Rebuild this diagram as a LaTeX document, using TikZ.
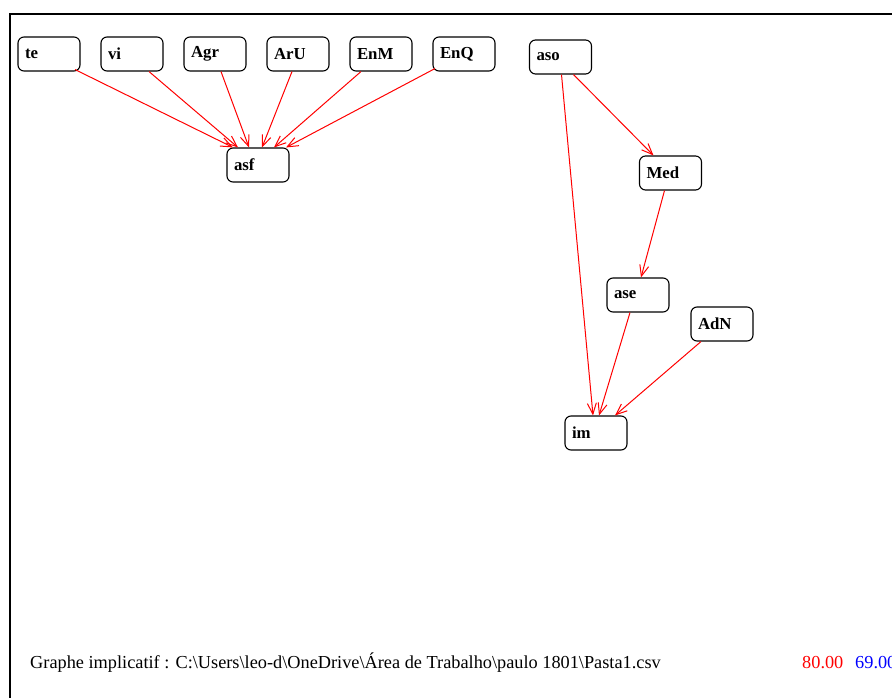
\documentclass[tikz,border=0pt]{standalone}
\usepackage{fontspec}
\setmainfont{Liberation Serif}
\usetikzlibrary{arrows.meta}

\begin{document}
\begin{tikzpicture}[x=1pt, y=-1pt, node distance=83pt, auto,
    >={Straight Barb[length=11pt,width=9pt]},
    var/.style={draw, rounded corners=6pt, line width=1.1pt, minimum height=34pt,
      text width=48pt, inner xsep=7pt, align=left,
      font=\bfseries\fontsize{16.8}{18}\selectfont},
    imp/.style={->, red, line width=1pt},
    foot/.style={anchor=base west, inner sep=0pt, font=\fontsize{18.3}{20}\selectfont}]
  \useasboundingbox (0,0) rectangle (892,698);
  \draw [line width=2pt] (10,698) -- (10,14) -- (892,14);
      \node[var] (te) at (49,54) {te};
      \node[var] (vi) [right of=te] {vi};
      \node[var] (Agr) [right of=vi] {Agr};
      \node[var] (ArU) [right of=Agr] {ArU};
      \node[var] (EnM) [right of=ArU] {EnM};
      \node[var] (EnQ) [right of=EnM] {EnQ};
      \node[var] (asf) at (258,165) {asf};
      \node[var] (aso) at (560.5,57) {aso};
      \node[var] (Med) at (670.5,173) {Med};
      \node[var] (ase) at (638,295) {ase};
      \node[var] (AdN) at (722,324) {AdN};
      \node[var] (im) at (596,433) {im};
    \draw [imp] ([xshift=26pt,yshift=2pt]te.south) -- ([xshift=-25pt]asf.north);
    \draw [imp] ([xshift=17pt]vi.south) -- ([xshift=-20pt]asf.north);
    \draw [imp] ([xshift=6pt]Agr.south) -- ([xshift=-9pt]asf.north);
    \draw [imp] ([xshift=-6pt]ArU.south) -- ([xshift=4pt]asf.north);
    \draw [imp] ([xshift=-20pt]EnM.south) -- ([xshift=16pt]asf.north);
    \draw [imp] ([xshift=-29pt,yshift=3pt]EnQ.south) -- ([xshift=28pt]asf.north);
    \draw [imp] ([xshift=1pt]aso.south) -- ([xshift=-3pt]im.north);
    \draw [imp] ([xshift=13pt]aso.south) -- ([xshift=-17pt]Med.north);
    \draw [imp] ([xshift=-6pt]Med.south) -- ([xshift=3pt]ase.north);
    \draw [imp] ([xshift=-8pt]ase.south) -- ([xshift=3pt]im.north);
    \draw [imp] ([xshift=-21pt]AdN.south) -- ([xshift=19pt]im.north);
  \node[foot] (titre) at (30,668) {Graphe implicatif : C:\textbackslash Users\textbackslash leo-d\textbackslash OneDrive\textbackslash Área de Trabalho\textbackslash paulo 1801\textbackslash Pasta1.csv};
  \node[foot, red] (seuil1) at (802,668) {80.00};
  \node[foot, blue] (seuil2) at (855,668) {69.00};
\end{tikzpicture}
\end{document}
